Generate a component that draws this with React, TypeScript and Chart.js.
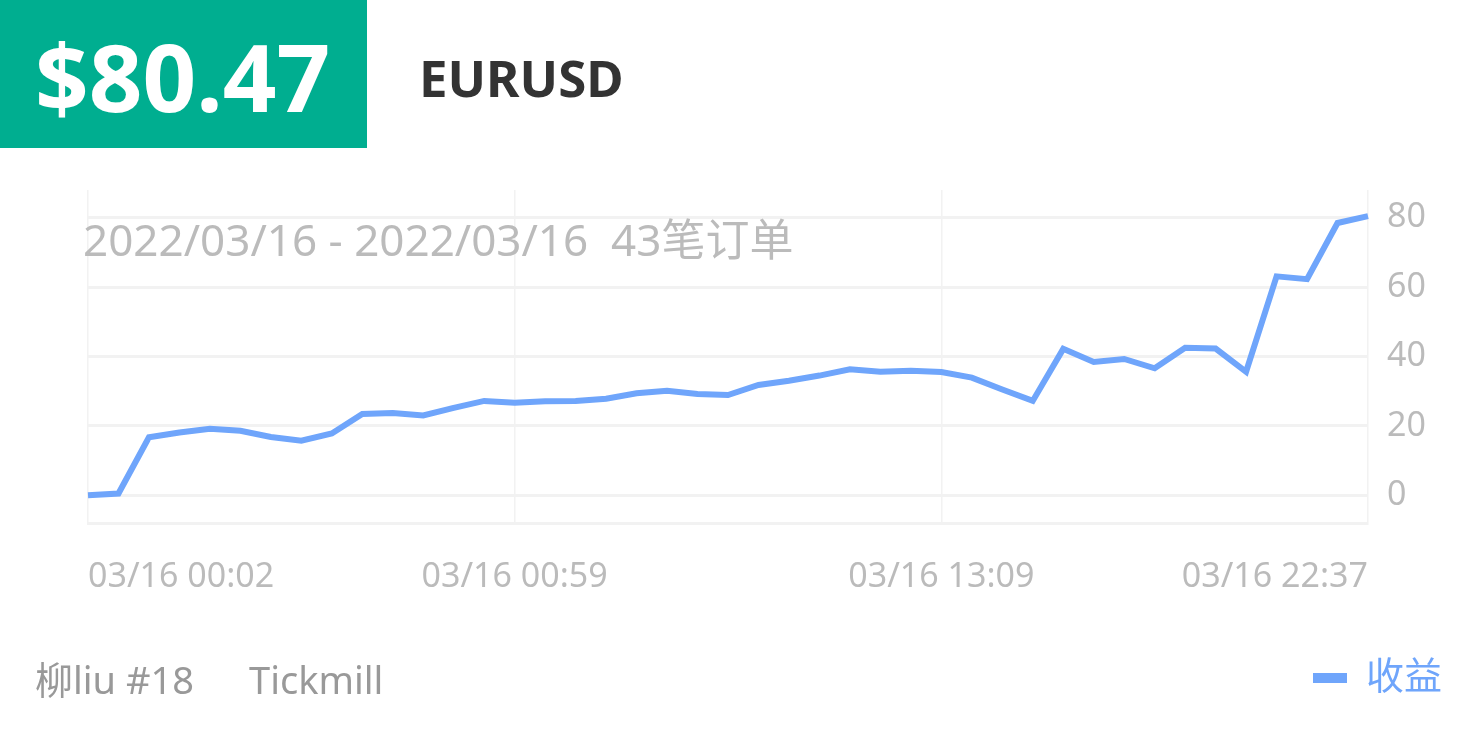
import React, { useEffect, useRef } from 'react';
import { Chart, registerables } from 'chart.js';

Chart.register(...registerables);

// cumulative profit after each order (USD)
const profit = [
    0, 0.5, 16.7, 18.1, 19.2, 18.6, 16.8, 15.7, 17.8, 23.4,
    23.7, 23.0, 25.2, 27.2, 26.7, 27.1, 27.2, 27.8, 29.4, 30.1,
    29.2, 28.9, 31.8, 33.0, 34.5, 36.3, 35.6, 35.9, 35.5, 33.9,
    30.5, 27.2, 42.2, 38.4, 39.3, 36.6, 42.5, 42.3, 35.6, 63.1,
    62.3, 78.5, 80.47,
];
const orderIndex = profit.map((_, i) => i);

const xTickIndex = [0, 14, 28, 42];
const xTickLabels = ['03/16 00:02', '03/16 00:59', '03/16 13:09', '03/16 22:37'];
const yTicks = [0, 20, 40, 60, 80];

const seriesName = '收益';
const totalLabel = '$80.47';
const symbol = 'EURUSD';
const rangeLabel = '2022/03/16 - 2022/03/16  43笔订单';
const accountLabel = '柳liu #18';
const brokerLabel = 'Tickmill';

const FONT = '"Noto Sans", "Noto Sans CJK SC", sans-serif';
const LINE = '#6fa5fb';
const GRID = '#f2f2f2';
const TICK = '#bbbbbb';

const ProfitChart: React.FC = () => {
    const chartRef = useRef<HTMLCanvasElement>(null);
    const chartInstanceRef = useRef<Chart | null>(null);

    useEffect(() => {
        const ctx = chartRef.current?.getContext('2d');
        if (!ctx) return;
        if (chartInstanceRef.current) chartInstanceRef.current.destroy();

        chartInstanceRef.current = new Chart(ctx, {
            type: 'line',
            data: {
                labels: orderIndex,
                datasets: [
                    {
                        label: seriesName,
                        data: profit,
                        borderColor: LINE,
                        backgroundColor: LINE,
                        borderWidth: 6,
                        pointRadius: 0,
                        tension: 0,
                        fill: false,
                    },
                ],
            },
            options: {
                responsive: false,
                animation: false,
                events: [],
                layout: { padding: { left: 88, top: 190, right: 25, bottom: 31 } },
                font: { family: FONT },
                scales: {
                    x: {
                        type: 'category',
                        offset: false,
                        grid: { color: GRID, lineWidth: 1.5, drawTicks: false },
                        border: { display: true, color: GRID, width: 3 },
                        ticks: {
                            autoSkip: false,
                            maxRotation: 0,
                            minRotation: 0,
                            align: 'inner',
                            padding: 34,
                            color: TICK,
                            font: { family: FONT, size: 34 },
                            callback: (value) => {
                                const k = xTickIndex.indexOf(Number(value));
                                return k >= 0 ? xTickLabels[k] : '';
                            },
                        },
                        afterBuildTicks: (scale) => {
                            scale.ticks = xTickIndex.map((v) => ({ value: v }));
                        },
                        afterFit: (scale) => {
                            scale.height = 126;
                        },
                    },
                    y: {
                        position: 'right',
                        min: -8,
                        max: 88,
                        grid: { color: GRID, lineWidth: 3, drawTicks: false },
                        border: { display: false },
                        ticks: {
                            padding: 19,
                            color: TICK,
                            font: { family: FONT, size: 34 },
                        },
                        afterBuildTicks: (scale) => {
                            scale.ticks = yTicks.map((v) => ({ value: v }));
                        },
                        afterFit: (scale) => {
                            scale.width = 84;
                        },
                    },
                },
                plugins: {
                    legend: {
                        position: 'bottom',
                        align: 'end',
                        labels: {
                            boxWidth: 34,
                            boxHeight: 10,
                            padding: 10,
                            color: LINE,
                            font: { family: FONT, size: 38 },
                            generateLabels: (chart) =>
                                Chart.defaults.plugins.legend.labels
                                    .generateLabels(chart)
                                    .map((l) => ({ ...l, lineWidth: 0, fillStyle: LINE })),
                        },
                    },
                    tooltip: { enabled: false },
                },
            },
        });

        return () => {
            if (chartInstanceRef.current) {
                chartInstanceRef.current.destroy();
                chartInstanceRef.current = null;
            }
        };
    }, []);

    return <canvas ref={chartRef} width={1477} height={738} style={{ position: 'absolute', left: 0, top: 0 }}></canvas>;
};

const App: React.FC = () => {
    return (
        <div
            style={{
                position: 'fixed',
                left: 0,
                top: 0,
                width: 1477,
                height: 738,
                background: '#ffffff',
                fontFamily: FONT,
                overflow: 'hidden',
            }}
        >
            <ProfitChart />
            <div
                style={{
                    position: 'absolute',
                    left: 0,
                    top: 0,
                    width: 367,
                    height: 148,
                    background: '#00ae90',
                }}
            >
                <div
                    style={{
                        position: 'absolute',
                        left: 35,
                        top: 2,
                        lineHeight: '148px',
                        fontSize: 94,
                        fontWeight: 700,
                        color: '#ffffff',
                        whiteSpace: 'nowrap',
                    }}
                >
                    {totalLabel}
                </div>
            </div>
            <div
                style={{
                    position: 'absolute',
                    left: 419,
                    top: 3,
                    lineHeight: '148px',
                    fontSize: 51,
                    fontWeight: 700,
                    color: '#333333',
                }}
            >
                {symbol}
            </div>
            <div
                style={{
                    position: 'absolute',
                    left: 83,
                    top: 209,
                    lineHeight: '60px',
                    fontSize: 44,
                    color: TICK,
                    whiteSpace: 'pre',
                    pointerEvents: 'none',
                }}
            >
                {rangeLabel}
            </div>
            <div
                style={{
                    position: 'absolute',
                    left: 35,
                    top: 654,
                    lineHeight: '50px',
                    fontSize: 38,
                    color: '#999999',
                    whiteSpace: 'pre',
                }}
            >
                <span>{accountLabel}</span>
                <span style={{ marginLeft: 55 }}>{brokerLabel}</span>
            </div>
        </div>
    );
};

export default App;
